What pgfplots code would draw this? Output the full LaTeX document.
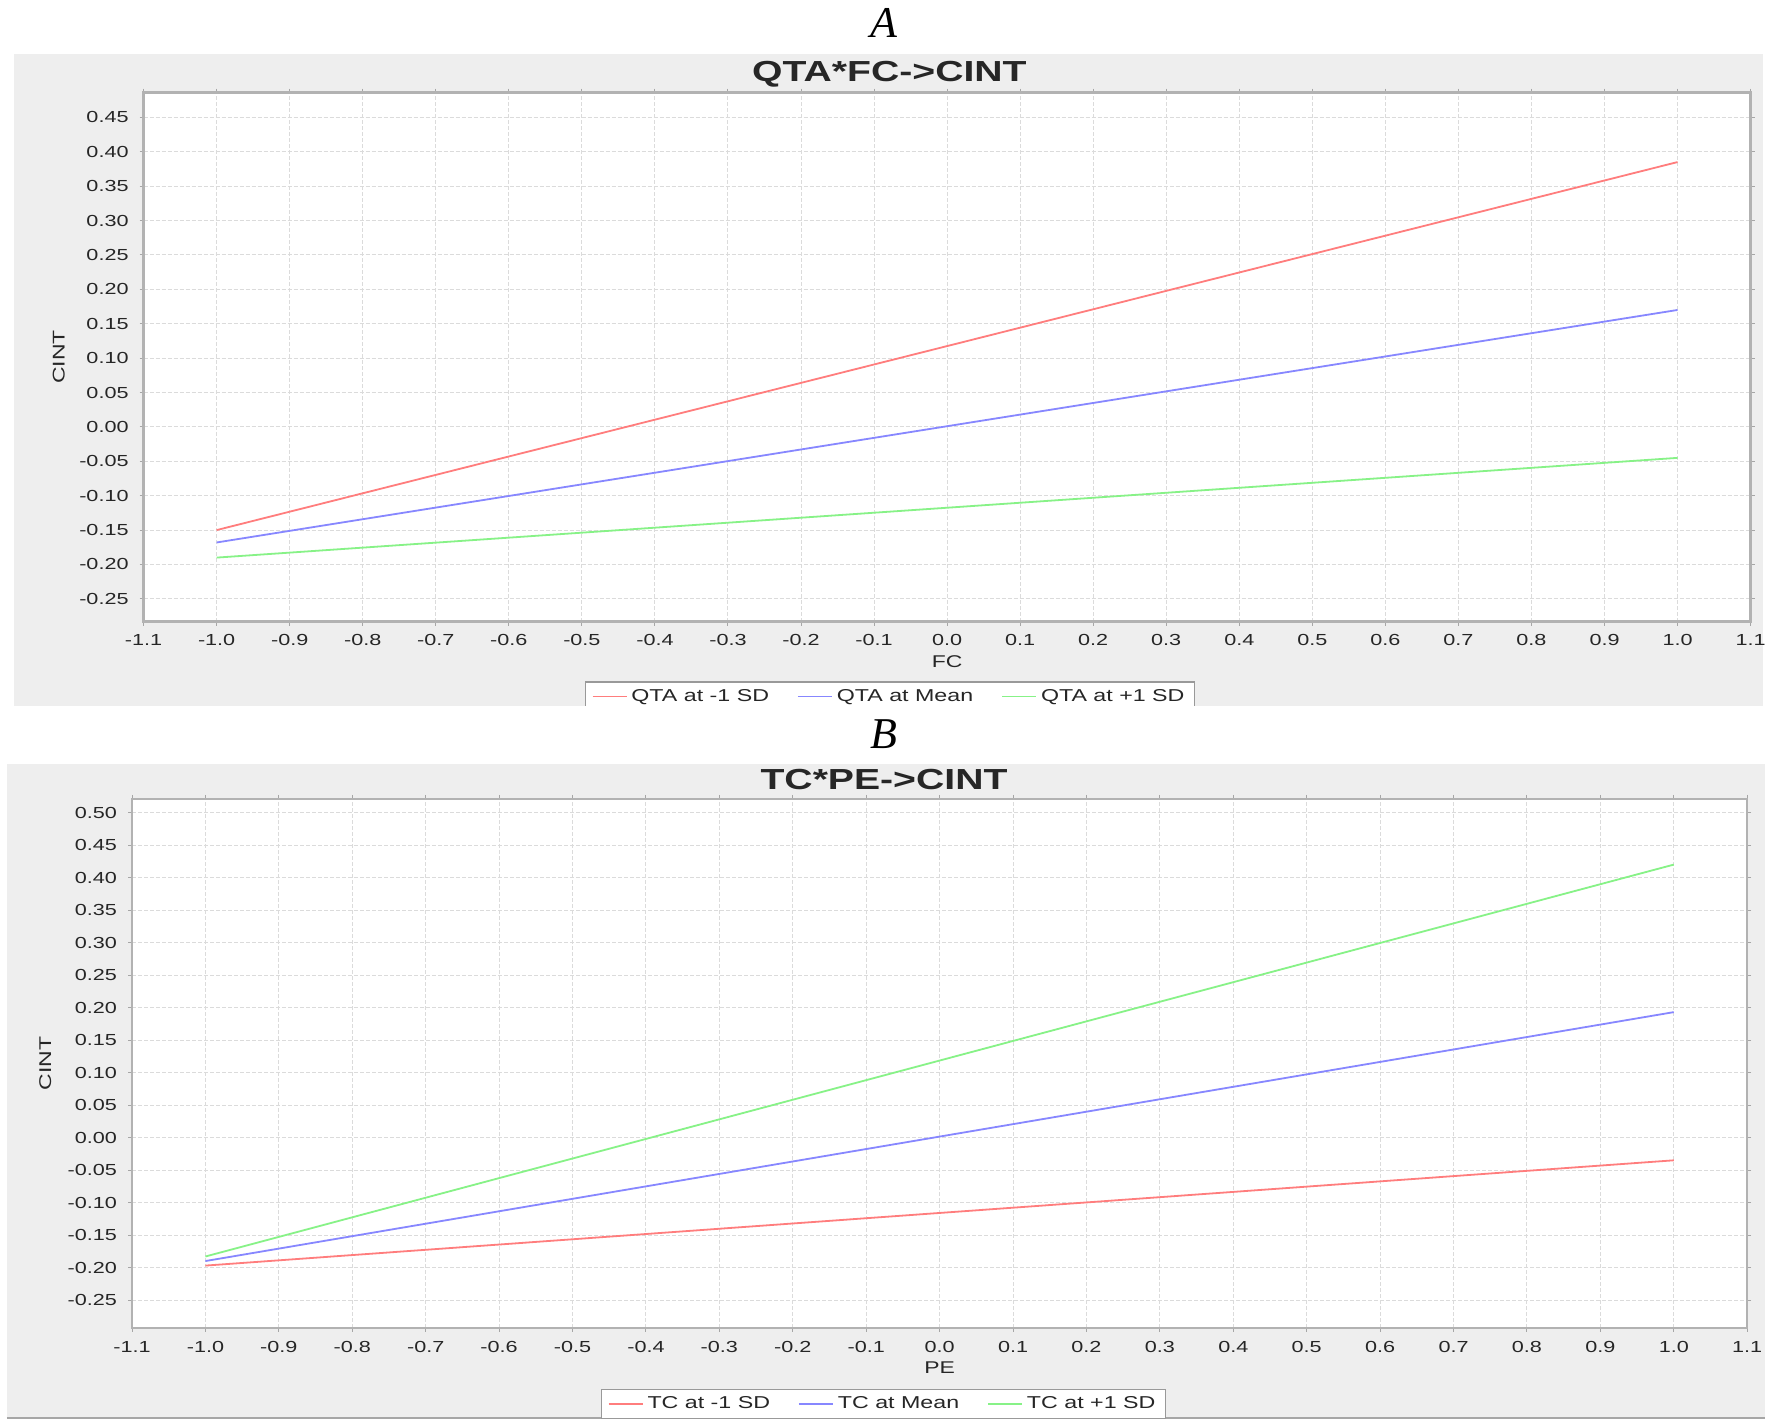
\documentclass[border=0pt]{standalone}
\usepackage{pgfplots}
\pgfplotsset{compat=1.18}
\usepackage{fontspec}
\setmainfont{Liberation Sans}[FakeStretch=1.35]
\newfontfamily\panelfont{Liberation Serif}
\definecolor{lred}{RGB}{255,125,125}
\definecolor{lblue}{RGB}{135,135,255}
\definecolor{lgreen}{RGB}{135,242,135}
\definecolor{panel}{RGB}{238,238,238}
\pgfplotsset{
 jf/.style={
  scale only axis,
  anchor=south west,
  xmin=-1.1, xmax=1.1,
  xtick={-1.1,-1.0,-0.9,-0.8,-0.7,-0.6,-0.5,-0.4,-0.3,-0.2,-0.1,0,0.1,0.2,0.3,0.4,0.5,0.6,0.7,0.8,0.9,1.0,1.1},
  grid=major,
  grid style={gray!28, line width=0.5pt, dash pattern=on 2pt off 1pt},
  axis line style={gray!60, line width=1.2pt},
  tick style={gray!70, line width=0.5pt},
  tick align=outside, major tick length=2pt,
  /pgf/number format/assume math mode=true,
  tick label style={font=\fontsize{8}{9}\selectfont, text=black!85},
  x tick label style={/pgf/number format/fixed, /pgf/number format/fixed zerofill, /pgf/number format/precision=1, yshift=-1pt},
  y tick label style={/pgf/number format/fixed, /pgf/number format/fixed zerofill, /pgf/number format/precision=2, xshift=-2pt},
  label style={font=\fontsize{8.5}{10}\selectfont, text=black!85},
  axis background/.style={fill=white},
  legend style={draw=gray!80, line width=0.7pt, font=\fontsize{8.6}{10}\selectfont, text=black!85, legend columns=3, anchor=north, inner ysep=1.5pt, inner xsep=3pt,
    /tikz/every even column/.append style={column sep=12pt}},
  legend image code/.code={\draw[#1, line width=0.9pt] (0pt,0pt) -- (17pt,0pt);},
  every axis plot/.append style={line width=0.9pt, no marks},
 }
}
\begin{document}
\begin{tikzpicture}
\useasboundingbox (0pt,0pt) rectangle (886pt,714pt);
\fill[white] (0pt,0pt) rectangle (886pt,714pt);
% panels
\fill[panel] (6.8pt,361pt) rectangle (881.5pt,687pt);
\fill[panel] (3.4pt,5pt) rectangle (882.6pt,332pt);
\draw[gray!70, line width=1pt] (3.4pt,5pt) -- (882.6pt,5pt);
% titles
\node[font=\bfseries\fontsize{14.5}{16}\selectfont, text=black!85] at (444.7pt,676.7pt) {QTA*FC->CINT};
\node[font=\bfseries\fontsize{14.5}{16}\selectfont, text=black!85] at (442pt,324pt) {TC*PE->CINT};

\begin{axis}[jf,
  at={(71.8pt,403.2pt)}, width=803.5pt, height=264.5pt,
  ymin=-0.283, ymax=0.486,
  ytick={-0.25,-0.2,-0.15,-0.1,-0.05,0,0.05,0.1,0.15,0.2,0.25,0.3,0.35,0.4,0.45},
  xlabel={FC}, ylabel={CINT},
  xlabel style={at={(axis description cs:0.5,-0.075)}, anchor=center},
  ylabel style={at={(axis description cs:-0.0528,0.5)}, anchor=center},
  legend style={at={(axis description cs:0.4645,-0.113)}},
]
\addplot[lred] coordinates {(-1,-0.150) (1,0.385)};
\addplot[lblue] coordinates {(-1,-0.168) (1,0.170)};
\addplot[lgreen] coordinates {(-1,-0.190) (1,-0.045)};
\legend{QTA at -1 SD, QTA at Mean, QTA at +1 SD}
\end{axis}

\begin{axis}[jf,
  at={(66pt,50pt)}, width=807.6pt, height=264.5pt,
  ymin=-0.293, ymax=0.521,
  ytick={-0.25,-0.2,-0.15,-0.1,-0.05,0,0.05,0.1,0.15,0.2,0.25,0.3,0.35,0.4,0.45,0.5},
  xlabel={PE}, ylabel={CINT},
  xlabel style={at={(axis description cs:0.5,-0.0745)}, anchor=center},
  ylabel style={at={(axis description cs:-0.0537,0.5)}, anchor=center},
  legend style={at={(axis description cs:0.4653,-0.115)}},
]
\addplot[lred] coordinates {(-1,-0.197) (1,-0.035)};
\addplot[lblue] coordinates {(-1,-0.190) (1,0.193)};
\addplot[lgreen] coordinates {(-1,-0.183) (1,0.420)};
\legend{TC at -1 SD, TC at Mean, TC at +1 SD}
\end{axis}

% white gap between panels (clips legend A bottom)
\fill[white] (0pt,332pt) rectangle (886pt,361pt);
\node[font=\panelfont\itshape\fontsize{22}{24}\selectfont] at (442pt,347pt) {B};
\node[font=\panelfont\itshape\fontsize{22}{24}\selectfont] at (442pt,702.7pt) {A};
\end{tikzpicture}
\end{document}
